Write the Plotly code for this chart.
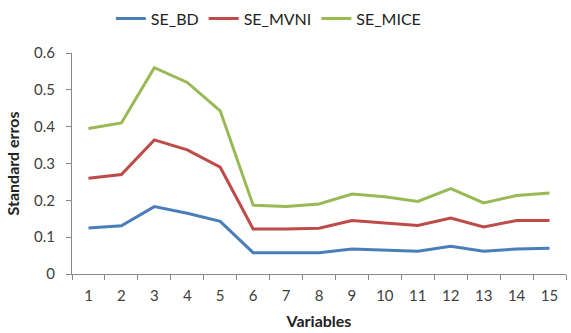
import plotly.graph_objects as go

variables = [str(i) for i in range(1, 16)]
se_bd = [0.125, 0.131, 0.183, 0.165, 0.143, 0.058, 0.058, 0.058, 0.068, 0.065, 0.062, 0.075, 0.062, 0.068, 0.070]
se_mvni = [0.260, 0.270, 0.364, 0.337, 0.290, 0.122, 0.122, 0.124, 0.145, 0.138, 0.132, 0.152, 0.128, 0.145, 0.145]
se_mice = [0.395, 0.410, 0.560, 0.520, 0.443, 0.187, 0.183, 0.190, 0.217, 0.210, 0.197, 0.232, 0.193, 0.213, 0.220]

series = [("SE_BD", se_bd, "#4A7EBB"), ("SE_MVNI", se_mvni, "#BE4B48"), ("SE_MICE", se_mice, "#98B954")]

fig = go.Figure()
for name, vals, col in series:
    fig.add_trace(go.Scatter(x=variables, y=vals, name=name, mode="lines",
                             line=dict(color=col, width=3)))

font = "Lato, Open Sans, sans-serif"
fig.update_layout(
    width=571, height=333,
    margin=dict(l=72, r=5, t=53, b=59),
    paper_bgcolor="white", plot_bgcolor="white",
    font=dict(family=font, size=15, color="#404040"),
    legend=dict(orientation="h", xref="container", x=0.47, xanchor="center",
                y=0.995, yref="container", yanchor="top",
                font=dict(size=16, color="#222"), itemwidth=30),
    xaxis=dict(type="category", tickson="boundaries", ticks="outside", ticklen=5,
               range=[-0.5, 14.5],
               tickcolor="#888", showline=True, linecolor="#888", linewidth=1,
               showgrid=False, ticklabelstandoff=8,
               title=dict(text="<b>Variables</b>", font=dict(size=16, color="#222"), standoff=12)),
    yaxis=dict(range=[0, 0.6], ticks="outside", ticklen=5,
               tickcolor="#888", showline=True, linecolor="#888", linewidth=1,
               showgrid=False, zeroline=False, ticklabelstandoff=8,
               tickvals=[0, 0.1, 0.2, 0.3, 0.4, 0.5, 0.6],
               ticktext=["0", "0.1", "0.2", "0.3", "0.4", "0.5", "0.6"],
               title=dict(text="<b>Standard erros</b>", font=dict(size=16, color="#222"), standoff=10)),
)
fig.write_html("out.html")
